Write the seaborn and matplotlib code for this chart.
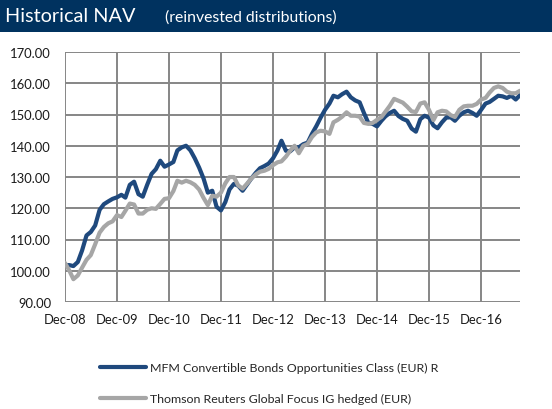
import pandas as pd
import matplotlib.pyplot as plt
import matplotlib.dates as mdates
from matplotlib.patches import Rectangle
import seaborn as sns

# --- data: month-end NAV, Dec-08 .. Sep-17 ---
fund_name = 'MFM Convertible Bonds Opportunities Class (EUR) R'
index_name = 'Thomson Reuters Global Focus IG hedged (EUR)'

fund_nav = [
    101.8, 101.8, 101.5, 102.8, 106.5, 111.3, 112.4, 114.5, 119.5, 121.3, 122.2, 123.0,
    123.5, 124.3, 123.4, 127.5, 128.5, 124.5, 123.7, 127.5, 131.0, 132.5, 135.2, 133.3,
    134.0, 134.8, 138.5, 139.5, 140.0, 138.5, 136.0, 133.0, 129.5, 125.0, 125.6, 120.5,
    119.3, 122.0, 126.0, 127.8, 127.2, 125.6, 127.5, 129.5, 131.3, 132.8, 133.5, 134.3,
    136.0, 138.5, 141.6, 138.4, 138.2, 139.5, 139.5, 140.5, 141.0, 143.8, 146.3, 149.0,
    151.5, 153.5, 156.0, 155.5, 156.5, 157.3, 155.5, 154.5, 153.9, 150.5, 147.3, 147.0,
    146.2, 148.0, 149.4, 150.5, 151.2, 149.5, 148.6, 148.0, 145.5, 144.5, 148.5, 149.6,
    149.0, 146.5, 145.6, 147.5, 149.0, 149.1, 148.0, 149.6, 150.7, 151.2, 150.5, 149.6,
    151.5, 153.5, 154.0, 155.0, 156.0, 155.8, 155.3, 156.0, 154.8, 156.2,
]

index_nav = [
    102.5, 100.0, 97.3, 98.5, 101.0, 103.5, 105.0, 108.5, 112.2, 114.0, 115.2, 115.8,
    117.8, 117.2, 119.2, 121.5, 121.2, 118.3, 118.3, 119.5, 120.0, 119.8, 121.4, 123.0,
    123.2, 125.5, 128.8, 128.2, 128.8, 128.3, 127.5, 126.0, 123.3, 121.0, 124.0, 123.7,
    125.0, 128.0, 130.0, 130.0, 127.3, 126.3, 127.8, 129.5, 130.8, 131.7, 132.0, 132.6,
    133.8, 134.7, 135.0, 136.5, 138.4, 140.0, 137.6, 140.0, 140.6, 142.8, 144.3, 144.8,
    144.6, 143.8, 147.5, 148.3, 149.3, 150.7, 149.6, 149.6, 149.3, 147.3, 147.0, 147.3,
    148.3, 149.2, 150.9, 152.8, 155.0, 154.4, 153.8, 152.5, 151.0, 150.8, 153.5, 153.9,
    151.5, 148.2, 150.7, 151.2, 151.0, 149.8, 149.2, 151.5, 152.6, 152.8, 152.8, 153.4,
    154.8, 155.3, 157.0, 158.5, 159.0, 158.5, 157.3, 156.8, 156.8, 157.6,
]

dates = pd.date_range('2008-12-31', periods=len(fund_nav), freq='ME')
y_ticks = [90, 100, 110, 120, 130, 140, 150, 160, 170]

df = pd.concat([
    pd.DataFrame({'Date': dates, 'NAV': fund_nav, 'Series': fund_name}),
    pd.DataFrame({'Date': dates, 'NAV': index_nav, 'Series': index_name}),
])

# --- plot ---
sns.set_style('white')
plt.rcParams['font.family'] = ['Lato', 'DejaVu Sans']

fig = plt.figure(figsize=(5.52, 4.10), dpi=100)
ax = fig.add_axes([65 / 552, 1 - 303 / 410, 455 / 552, 250 / 410])

# header band
fig.patches.append(Rectangle((0, 1 - 33 / 410), 1, 33 / 410, transform=fig.transFigure,
                             facecolor='#00325F', edgecolor='none', zorder=0))
fig.text(5 / 552, 1 - 17 / 410, 'Historical NAV', color='white', fontsize=14.3, va='center')
fig.text(165 / 552, 1 - 18 / 410, '(reinvested distributions)', color='white', fontsize=11.3, va='center')

sns.lineplot(data=df, x='Date', y='NAV', hue='Series',
             palette={fund_name: '#1F497D', index_name: '#A6A6A6'},
             linewidth=3, ax=ax, legend=False)

ax.set_xlim(dates[0], dates[-1])
ax.set_ylim(90, 170)
ax.set_yticks(y_ticks)
ax.set_yticklabels([f'{v:.2f}' for v in y_ticks])
ax.set_xticks([d for d in dates if d.month == 12])
ax.xaxis.set_major_formatter(mdates.DateFormatter('%b-%y'))
ax.set_xlabel('')
ax.set_ylabel('')

ax.grid(True, color='#868686', linewidth=1.4)
ax.set_axisbelow(True)
for s in ax.spines.values():
    s.set_visible(False)
ax.tick_params(axis='both', length=4, width=1.4, color='#868686', labelsize=9.4,
               labelcolor='#1A1A1A', pad=4)
ax.tick_params(axis='y', pad=6)

# legend below
handles = [plt.Line2D([], [], color='#1F497D', linewidth=3),
           plt.Line2D([], [], color='#A6A6A6', linewidth=3)]
fig.legend(handles, [fund_name, index_name], loc='upper left',
           bbox_to_anchor=(89 / 552, 1 - 352 / 410), frameon=False,
           fontsize=8.9, handlelength=3.7, handletextpad=0.3, labelspacing=1.6)

fig.savefig('out.png', dpi=100)
plt.close(fig)
